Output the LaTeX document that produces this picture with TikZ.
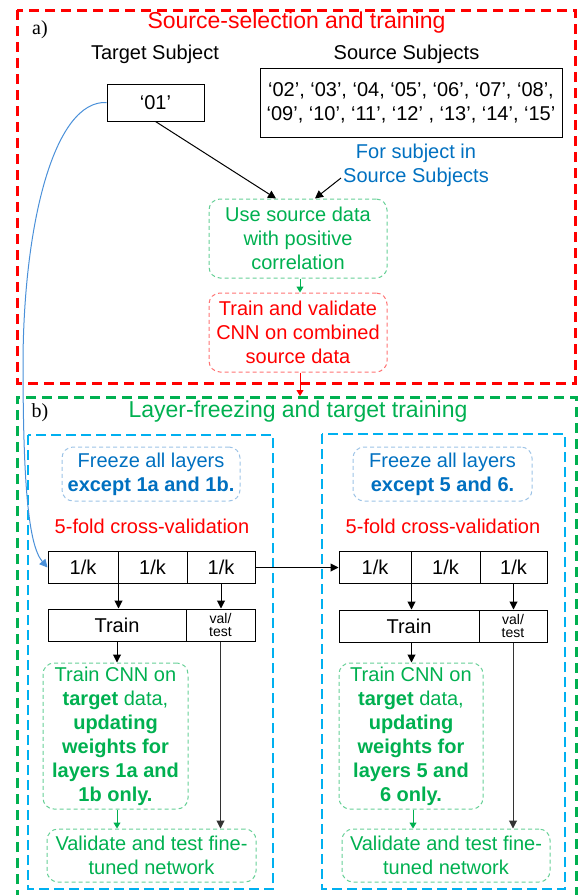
\documentclass[tikz,border=0pt]{standalone}
\usepackage{fontspec}
\setmainfont{Liberation Sans}
\newfontfamily\labelserif{Liberation Serif}
\usetikzlibrary{arrows.meta}

\definecolor{sred}{HTML}{FF0000}
\definecolor{sgreen}{HTML}{00B050}
\definecolor{spanel}{HTML}{00B0F0}
\definecolor{sblue}{HTML}{0070C0}
\definecolor{scurve}{HTML}{4A90D9}
\definecolor{sfreeze}{HTML}{9DC3E6}

\newcommand\txtsize{\fontsize{20pt}{24pt}\selectfont}
\newcommand\ttlsize{\fontsize{23pt}{27pt}\selectfont}
\newcommand\smlsize{\fontsize{14pt}{13pt}\selectfont}

\tikzset{
  framea/.style={draw=sred, line width=3pt, dash pattern=on 10pt off 6pt},
  frameb/.style={draw=sgreen, line width=3pt, dash pattern=on 10pt off 6pt},
  panel/.style={draw=spanel, line width=2pt, dash pattern=on 10pt off 5pt},
  softbox/.style={rounded corners=11pt, line width=1pt, dash pattern=on 4pt off 3pt,
    inner sep=0pt, align=center, font=\txtsize},
  cell/.style={draw=black, line width=1pt, inner sep=0pt, font=\txtsize, align=center},
  plain/.style={inner sep=0pt, font=\txtsize, align=center},
  heading/.style={inner sep=0pt, font=\ttlsize},
  tag/.style={inner sep=0pt, font=\fontsize{20pt}{22pt}\labelserif},
  arr/.style={-{Triangle[length=8pt,width=8pt]}, line width=1pt},
  smallarr/.style={-{Triangle[length=6pt,width=7pt]}, line width=1pt},
}

\begin{document}
\begin{tikzpicture}[x=1pt, y=-1pt]
\useasboundingbox (0,0) rectangle (578,895);

% outer dashed frames
\draw[framea] (17,10) rectangle (575,383);
\draw[frameb] (17,900) -- (17,397) -- (576,397) -- (576,900);
\coordinate (btop) at (300,396);

% ---------- part a ----------
\node[heading, text=sred] (ta) at (296.5,23) {Source-selection and training};
\node[tag] (la) at (40,30) {a)};
\node[plain] (tsub) at (155,54) {Target Subject};
\node[plain] (ssub) at (406.5,54) {Source Subjects};

\node[cell, minimum width=97pt, minimum height=37pt] (t01) at (155.5,102.5) {‘01’};
\node[cell, minimum width=302pt, minimum height=69pt] (src) at (411,103)
  {‘02’, ‘03’, ‘04, ‘05’, ‘06’, ‘07’, ‘08’,\\‘09’, ‘10’, ‘11’, ‘12’ , ‘13’, ‘14’, ‘15’};

\node[plain, text=sblue] (forlbl) at (416,165) {For subject in\\Source Subjects};
\coordinate (fs) at (341,178);

\node[softbox, draw=sgreen!60, text=sgreen, minimum width=178pt, minimum height=79pt]
  (use) at (298,238.5) {Use source data\\with positive\\correlation};
\node[softbox, draw=sred!55, text=sred, minimum width=178pt, minimum height=79pt]
  (trsrc) at (298,332.5) {Train and validate\\CNN on combined\\source data};

\draw[arr] (t01.south) -- ([xshift=-22pt]use.north);
\draw[arr] (fs) -- ([xshift=17pt]use.north);
\draw[smallarr, draw=sgreen] (use.south -| 300,0) -- (trsrc.north -| 300,0);
\draw[smallarr, draw=sred] (trsrc.south -| 300,0) -- (btop);

% ---------- part b ----------
\node[heading, text=sgreen] (tb) at (298,412) {Layer-freezing and target training};
\node[tag] (lb) at (40,413) {b)};

\draw[panel] (28,435) rectangle (273,889);
\draw[panel] (322,434) rectangle (565,889);

% left panel
\node[softbox, draw=sfreeze, text=sblue, minimum width=178pt, minimum height=54pt]
  (frzL) at (151,474) {Freeze all layers\\\textbf{except 1a and 1b.}};
\node[plain, text=sred] (foldL) at (152,526) {5-fold cross-validation};

\node[cell, minimum width=70pt, minimum height=32pt] (c1) at (83,567.5) {1/k};
\node[cell, minimum width=69pt, minimum height=32pt] (c2) at (152.5,567.5) {1/k};
\node[cell, minimum width=68pt, minimum height=32pt] (c3) at (221,567.5) {1/k};

\node[cell, minimum width=138pt, minimum height=32pt] (tr1) at (117,625) {Train};
\node[cell, minimum width=69pt, minimum height=32pt, font=\smlsize] (vt1) at (220.5,625) {val/\\test};

\node[softbox, draw=sgreen!60, text=sgreen, minimum width=145pt, minimum height=146pt]
  (cnnL) at (115.5,736) {Train CNN on\\\textbf{target} data,\\\textbf{updating}\\\textbf{weights for}\\\textbf{layers 1a and}\\\textbf{1b only.}};
\node[softbox, draw=sgreen!60, text=sgreen, minimum width=209pt, minimum height=53pt]
  (valL) at (151.5,855.5) {Validate and test fine-\\tuned network};

\draw[arr] (c1.south east) -- (c1.south east |- tr1.north);
\draw[arr] (c3.south) -- (c3.south |- tr1.north);
\draw[arr] (tr1.south) -- (tr1.south |- cnnL.north);
\draw[smallarr, draw=sgreen] (cnnL.south -| tr1.south) -- (valL.north -| tr1.south);
\draw[arr, draw=black!80] (vt1.south) -- (vt1.south |- valL.north);

% right panel
\node[softbox, draw=sfreeze, text=sblue, minimum width=179pt, minimum height=54pt]
  (frzR) at (442.5,474) {Freeze all layers\\\textbf{except 5 and 6.}};
\node[plain, text=sred] (foldR) at (443,526) {5-fold cross-validation};

\node[cell, minimum width=72pt, minimum height=32pt] (d1) at (375,567.5) {1/k};
\node[cell, minimum width=69pt, minimum height=32pt] (d2) at (445.5,567.5) {1/k};
\node[cell, minimum width=67pt, minimum height=32pt] (d3) at (513.5,567.5) {1/k};

\node[cell, minimum width=140pt, minimum height=32pt] (tr2) at (409,626) {Train};
\node[cell, minimum width=68pt, minimum height=32pt, font=\smlsize] (vt2) at (513,626) {val/\\test};

\node[softbox, draw=sgreen!60, text=sgreen, minimum width=144pt, minimum height=146pt]
  (cnnR) at (411,736) {Train CNN on\\\textbf{target} data,\\\textbf{updating}\\\textbf{weights for}\\\textbf{layers 5 and}\\\textbf{6 only.}};
\node[softbox, draw=sgreen!60, text=sgreen, minimum width=208pt, minimum height=53pt]
  (valR) at (446,855.5) {Validate and test fine-\\tuned network};

\draw[arr] (d1.south east) -- (d1.south east |- tr2.north);
\draw[arr] (d3.south) -- (d3.south |- tr2.north);
\draw[arr] (tr2.south -| d1.south east) -- (cnnR.north -| d1.south east);
\draw[smallarr, draw=sgreen] (cnnR.south -| 413,0) -- (valR.north -| 413,0);
\draw[arr, draw=black!80] (vt2.south) -- (vt2.south |- valR.north);

% links between the parts
\draw[arr] (c3.east) -- (d1.west);
\draw[arr, draw=scurve] (t01.west) .. controls (55,100) and (24,220) .. (23,360)
  .. controls (23,480) and (28,545) .. (c1.west);

\end{tikzpicture}
\end{document}
